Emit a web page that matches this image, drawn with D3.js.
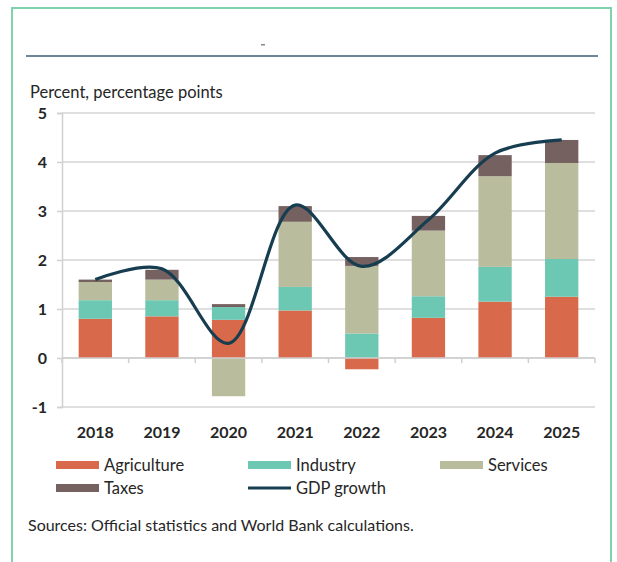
<!DOCTYPE html>
<html>
<head>
<meta charset="utf-8">
<script src="https://cdn.jsdelivr.net/npm/d3@7"></script>
<style>
  html, body { margin: 0; padding: 0; background: #fff; }
  svg { display: block; }
  text { font-family: Lato, "Open Sans", sans-serif; fill: #262626; }
</style>
</head>
<body>
<svg id="chart" width="617" height="562"></svg>
<script>
const years = ["2018", "2019", "2020", "2021", "2022", "2023", "2024", "2025"];
const agriculture = [0.80, 0.85, 0.78, 0.97, -0.23, 0.82, 1.15, 1.25];
const industry    = [0.38, 0.33, 0.26, 0.48, 0.50, 0.44, 0.71, 0.77];
const services    = [0.37, 0.42, -0.78, 1.33, 1.38, 1.34, 1.85, 1.96];
const taxes       = [0.05, 0.20, 0.06, 0.32, 0.18, 0.30, 0.43, 0.47];
const gdpGrowth   = [1.60, 1.82, 0.30, 3.12, 1.87, 2.82, 4.18, 4.45];
const yTicks = [-1, 0, 1, 2, 3, 4, 5];
const seriesNames = ["Agriculture", "Industry", "Services", "Taxes"];
const colors = { Agriculture: "#d9694b", Industry: "#6cc7b3", Services: "#b9bc9d", Taxes: "#75615f" };
const lineColor = "#173e50";

const svg = d3.select("#chart");

// frame
svg.append("rect").attr("x", 12).attr("y", 8).attr("width", 599).attr("height", 570)
  .attr("fill", "none").attr("stroke", "#7fd2aa").attr("stroke-width", 2);
svg.append("line").attr("x1", 26).attr("x2", 598).attr("y1", 56).attr("y2", 56)
  .attr("stroke", "#6f8794").attr("stroke-width", 2);
svg.append("rect").attr("x", 261).attr("y", 44).attr("width", 4).attr("height", 1.5).attr("fill", "#888");

svg.append("text").attr("x", 30).attr("y", 98).attr("font-size", 16.5).text("Percent, percentage points");

const x = d3.scaleBand().domain(years).range([62, 595]).paddingInner(0.5).paddingOuter(0.25);
const y = d3.scaleLinear().domain([-1, 5]).range([407, 113]);

// gridlines
svg.append("g").selectAll("line").data(yTicks).join("line")
  .attr("x1", 62).attr("x2", 595)
  .attr("y1", d => y(d)).attr("y2", d => y(d))
  .attr("stroke", "#d4d4d4").attr("stroke-width", 1.5);

// y axis
const yAxis = d3.axisLeft(y).tickValues(yTicks).tickSize(5).tickPadding(10).tickFormat(d => String(d));
const gy = svg.append("g").attr("transform", "translate(62,0)").call(yAxis);
gy.select(".domain").attr("stroke", "#d0d0d0").attr("stroke-width", 1.5);
gy.selectAll(".tick line").attr("stroke", "#d0d0d0").attr("stroke-width", 1.5);
gy.selectAll(".tick text").attr("font-size", 16).attr("font-weight", 700).attr("fill", "#333")
  .style("font-family", "Lato, sans-serif");

// stacked bars
const table = years.map((yr, i) => ({
  year: yr, Agriculture: agriculture[i], Industry: industry[i], Services: services[i], Taxes: taxes[i]
}));
const stack = d3.stack().keys(seriesNames).offset(d3.stackOffsetDiverging);
const stacked = stack(table);
svg.append("g").selectAll("g").data(stacked).join("g")
  .attr("fill", d => colors[d.key])
  .selectAll("rect").data(d => d).join("rect")
  .attr("x", d => x(d.data.year))
  .attr("width", x.bandwidth())
  .attr("y", d => y(Math.max(d[0], d[1])))
  .attr("height", d => Math.abs(y(d[0]) - y(d[1])));

// x axis at zero with category boundary ticks
const xb = x.step();
const boundaries = d3.range(years.length + 1).map(i => 62 + i * xb);
svg.append("line").attr("x1", 62).attr("x2", 595).attr("y1", y(0)).attr("y2", y(0))
  .attr("stroke", "#cfcfcf").attr("stroke-width", 1.5);
svg.append("g").selectAll("line").data(boundaries).join("line")
  .attr("x1", d => d).attr("x2", d => d).attr("y1", y(0)).attr("y2", y(0) + 5)
  .attr("stroke", "#cfcfcf").attr("stroke-width", 1.5);

// year labels
svg.append("g").selectAll("text").data(years).join("text")
  .attr("x", d => x(d) + x.bandwidth() / 2).attr("y", 438)
  .attr("text-anchor", "middle").attr("font-size", 16).attr("font-weight", 700).attr("fill", "#333")
  .text(d => d);

// GDP line
const line = d3.line()
  .x((d, i) => x(years[i]) + x.bandwidth() / 2)
  .y(d => y(d))
  .curve(d3.curveCatmullRom.alpha(0.5));
svg.append("path").datum(gdpGrowth).attr("d", line)
  .attr("fill", "none").attr("stroke", lineColor).attr("stroke-width", 3.2);

// legend
const legendItems = [
  { name: "Agriculture", type: "rect", x: 56, y: 465 },
  { name: "Industry", type: "rect", x: 248, y: 465 },
  { name: "Services", type: "rect", x: 440, y: 465 },
  { name: "Taxes", type: "rect", x: 56, y: 488 },
  { name: "GDP growth", type: "line", x: 248, y: 488 }
];
const lg = svg.append("g").selectAll("g").data(legendItems).join("g")
  .attr("transform", d => `translate(${d.x},${d.y})`);
lg.filter(d => d.type === "rect").append("rect")
  .attr("x", 0).attr("y", -4).attr("width", 43).attr("height", 8)
  .attr("fill", d => colors[d.name]);
lg.filter(d => d.type === "line").append("line")
  .attr("x1", 0).attr("x2", 43).attr("y1", 0).attr("y2", 0)
  .attr("stroke", lineColor).attr("stroke-width", 3.2);
lg.append("text").attr("x", 48).attr("y", 5.5).attr("font-size", 16.5).text(d => d.name);

svg.append("text").attr("x", 28).attr("y", 531).attr("font-size", 16)
  .text("Sources: Official statistics and World Bank calculations.");
</script>
</body>
</html>
